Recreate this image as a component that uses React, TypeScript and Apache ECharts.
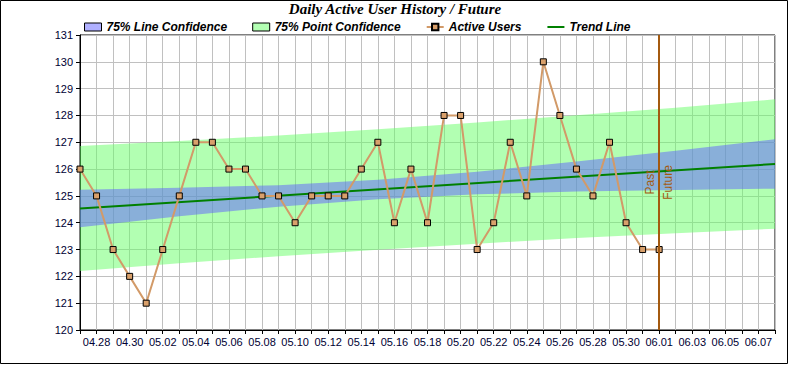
import React, { useEffect, useRef } from "react";
import * as echarts from "echarts";

// Category axis (one per day, 04.27 .. 06.08)
const dates = [
  "04.27", "04.28", "04.29", "04.30",
  "05.01", "05.02", "05.03", "05.04", "05.05", "05.06", "05.07", "05.08", "05.09", "05.10",
  "05.11", "05.12", "05.13", "05.14", "05.15", "05.16", "05.17", "05.18", "05.19", "05.20",
  "05.21", "05.22", "05.23", "05.24", "05.25", "05.26", "05.27", "05.28", "05.29", "05.30", "05.31",
  "06.01", "06.02", "06.03", "06.04", "06.05", "06.06", "06.07", "06.08",
];

// Active users, 04.27 .. 06.01
const activeUsers = [
  126, 125, 123, 122, 121, 123, 125, 127, 127, 126, 126, 125, 125, 124, 125, 125, 125, 126,
  127, 124, 126, 124, 128, 128, 123, 124, 127, 125, 130, 128, 126, 125, 127, 124, 123, 123,
];

// Trend line end points
const trendDates = ["04.27", "06.08"];
const trendValues = [124.53, 126.19];

// Confidence band boundaries
const bandDates = ["04.27", "05.03", "05.09", "05.15", "05.21", "05.27", "06.02", "06.08"];
const lineUpper = [125.23, 125.3, 125.4, 125.6, 125.9, 126.28, 126.68, 127.11];
const lineLower = [123.83, 124.24, 124.6, 124.88, 125.06, 125.16, 125.22, 125.27];
const pointUpper = [126.86, 127.05, 127.25, 127.49, 127.74, 128.01, 128.29, 128.6];
const pointLower = [122.2, 122.49, 122.75, 122.99, 123.22, 123.43, 123.61, 123.78];

const pastFutureDate = "06.01";

const SANS = "'Liberation Sans', Arial, sans-serif";
const SERIF = "'Liberation Serif', 'Times New Roman', serif";
const MARK = "#a45a10";

function bandRenderer(upper: number[], lower: number[], fill: string) {
  return (_params: any, api: any) => {
    const pts: number[][] = [];
    for (let i = 0; i < bandDates.length; i++) {
      pts.push(api.coord([dates.indexOf(bandDates[i]), upper[i]]));
    }
    for (let i = bandDates.length - 1; i >= 0; i--) {
      pts.push(api.coord([dates.indexOf(bandDates[i]), lower[i]]));
    }
    return { type: "polygon", shape: { points: pts }, style: { fill, stroke: null } };
  };
}

export default function App() {
  const ref = useRef<HTMLDivElement>(null);

  useEffect(() => {
    if (!ref.current) return;
    const chart = echarts.init(ref.current, undefined, { renderer: "svg" });
    chart.setOption({
      animation: false,
      backgroundColor: "#ffffff",
      title: {
        text: "Daily Active User History / Future",
        left: "center",
        top: 1,
        padding: 0,
        textStyle: {
          fontFamily: SERIF,
          fontStyle: "italic",
          fontWeight: "bold",
          fontSize: 15,
          color: "#000000",
        },
      },
      legend: {
        left: 84,
        top: 21,
        padding: 0,
        itemWidth: 17,
        itemHeight: 8,
        itemGap: 25,
        selectedMode: false,
        textStyle: {
          fontFamily: SANS,
          fontSize: 12,
          fontWeight: "bold",
          fontStyle: "italic",
          color: "#000000",
        },
        data: [
          { name: "75% Line Confidence", icon: "rect", itemStyle: { color: "#b0b0ff", borderColor: "#000000", borderWidth: 1 } },
          { name: "75% Point Confidence", icon: "rect", itemStyle: { color: "#b3ffb3", borderColor: "#000000", borderWidth: 1 } },
          { name: "Active Users" },
          { name: "Trend Line", itemStyle: { opacity: 0 } },
        ],
      },
      graphic: [
        {
          type: "rect",
          shape: { x: 0.5, y: 0.5, width: 787, height: 363 },
          style: { fill: null, stroke: "#000000", lineWidth: 1 },
          silent: true,
        },
      ],
      grid: {
        left: 80,
        right: 15,
        top: 35,
        bottom: 35,
        show: true,
        backgroundColor: "#ffffff",
        borderColor: "#000000",
        borderWidth: 1,
      },
      xAxis: {
        type: "category",
        data: dates,
        boundaryGap: false,
        axisLine: { lineStyle: { color: "#000000", width: 1 } },
        axisTick: { show: true, interval: 0, length: 4, lineStyle: { color: "#000000" } },
        axisLabel: {
          interval: (i: number) => i % 2 === 1,
          fontFamily: SANS,
          fontSize: 11,
          color: "#000033",
          margin: 6,
        },
        splitLine: { show: true, interval: 0, lineStyle: { color: "#c0c0c0", width: 1 } },
      },
      yAxis: {
        type: "value",
        min: 120,
        max: 131,
        interval: 1,
        axisLine: { show: true, lineStyle: { color: "#000000", width: 1 } },
        axisTick: { show: true, length: 4, lineStyle: { color: "#000000" } },
        axisLabel: { fontFamily: SANS, fontSize: 11, color: "#000033", margin: 7 },
        splitLine: { show: true, lineStyle: { color: "#c0c0c0", width: 1 } },
      },
      series: [
        {
          name: "75% Point Confidence",
          type: "custom",
          renderItem: bandRenderer(pointUpper, pointLower, "rgba(102,255,102,0.5)"),
          data: [[0, pointUpper[0]]],
          itemStyle: { color: "#b3ffb3" },
          silent: true,
          z: 1,
        },
        {
          name: "75% Line Confidence",
          type: "custom",
          renderItem: bandRenderer(lineUpper, lineLower, "rgba(96,96,255,0.5)"),
          data: [[0, lineUpper[0]]],
          itemStyle: { color: "#b0b0ff" },
          silent: true,
          z: 2,
        },
        {
          name: "Trend Line",
          type: "line",
          data: trendDates.map((d, i) => [d, trendValues[i]]),
          showSymbol: false,
          symbol: "none",
          lineStyle: { color: "#008000", width: 2 },
          itemStyle: { color: "#008000" },
          z: 3,
          markLine: {
            symbol: "none",
            silent: true,
            animation: false,
            lineStyle: { color: MARK, width: 2, type: "solid" },
            data: [
              {
                xAxis: pastFutureDate,
                label: { show: true, formatter: "Past", position: "insideMiddleTop", color: MARK, fontFamily: SANS, fontSize: 12, distance: 3 },
              },
              {
                xAxis: pastFutureDate,
                label: { show: true, formatter: "Future", position: "insideMiddleBottom", color: MARK, fontFamily: SANS, fontSize: 12, distance: 3 },
              },
            ],
          },
        },
        {
          name: "Active Users",
          type: "line",
          data: activeUsers.map((v, i) => [dates[i], v]),
          symbol: "rect",
          symbolSize: 6,
          showSymbol: true,
          lineStyle: { color: "#d29a68", width: 2 },
          itemStyle: { color: "#d9a06b", borderColor: "#000000", borderWidth: 1 },
          z: 4,
        },
      ],
    });
    return () => chart.dispose();
  }, []);

  return (
    <div
      ref={ref}
      style={{ position: "absolute", left: 0, top: 0, width: 790, height: 365 }}
    />
  );
}
